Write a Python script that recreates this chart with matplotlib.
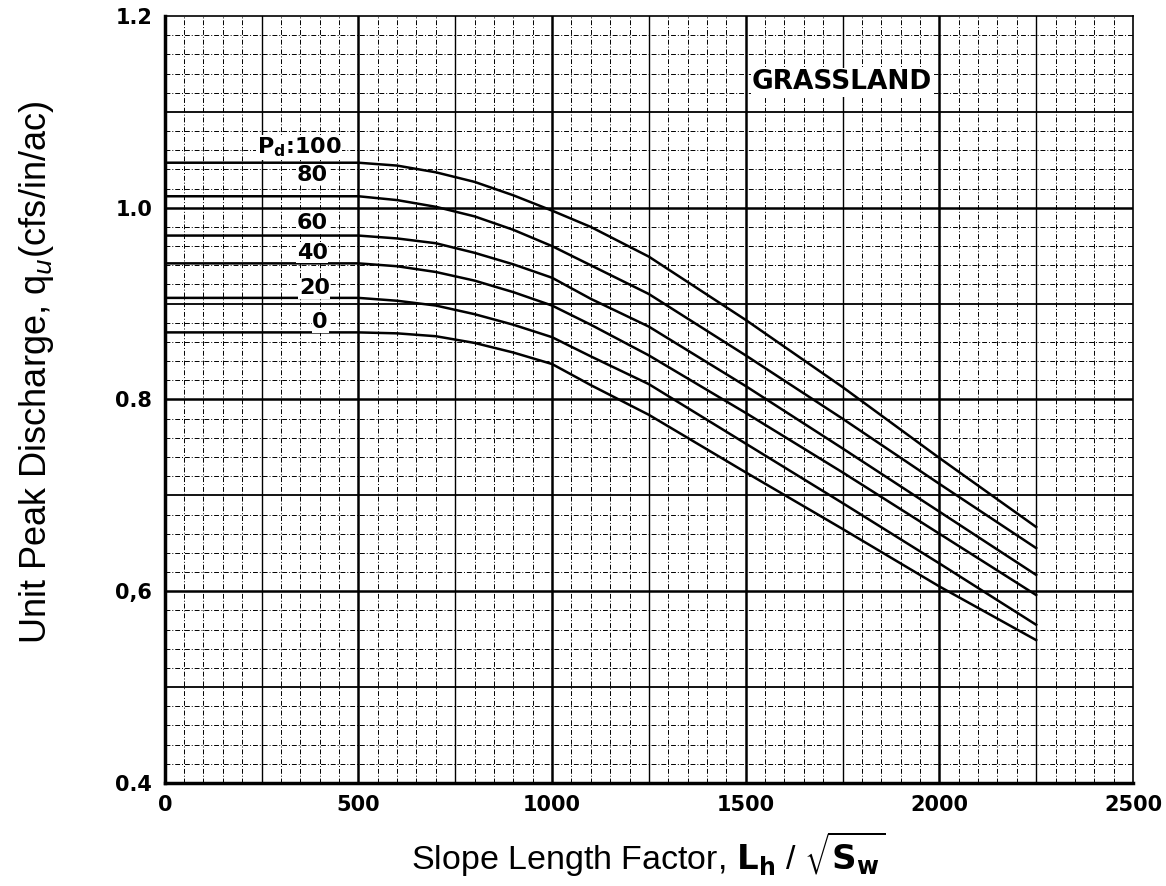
import matplotlib
matplotlib.use("Agg")
import matplotlib.pyplot as plt
import numpy as np

# Slope length factor values where the curves were read
x_pts = [0, 500, 600, 700, 800, 900, 1000, 1100, 1250, 1500, 1750, 2000, 2250]

# Unit peak discharge for each percent-pond value Pd
q_100 = [1.047, 1.047, 1.044, 1.037, 1.027, 1.013, 0.997, 0.980, 0.949, 0.883, 0.813, 0.739, 0.667]
q_80 = [1.012, 1.012, 1.008, 1.001, 0.991, 0.977, 0.960, 0.940, 0.910, 0.846, 0.780, 0.712, 0.645]
q_60 = [0.971, 0.971, 0.968, 0.963, 0.953, 0.941, 0.927, 0.905, 0.876, 0.814, 0.749, 0.683, 0.617]
q_40 = [0.942, 0.942, 0.939, 0.933, 0.924, 0.912, 0.898, 0.878, 0.846, 0.786, 0.724, 0.660, 0.596]
q_20 = [0.906, 0.906, 0.903, 0.898, 0.889, 0.878, 0.865, 0.845, 0.816, 0.754, 0.692, 0.629, 0.565]
q_0 = [0.870, 0.870, 0.869, 0.866, 0.859, 0.849, 0.837, 0.815, 0.784, 0.724, 0.665, 0.605, 0.549]

curves = [q_100, q_80, q_60, q_40, q_20, q_0]
curve_labels = [r"$\mathbf{P_d}$:100", "80", "60", "40", "20", "0"]
label_pos = [(347, 1.063), (381, 1.0345), (381, 0.984), (381, 0.953), (386, 0.916), (401, 0.881)]

x_ticks = [0, 500, 1000, 1500, 2000, 2500]
y_ticks = [0.4, 0.6, 0.8, 1.0, 1.2]
y_tick_labels = ["0.4", "0,6", "0.8", "1.0", "1.2"]

fig = plt.figure(figsize=(11.66, 8.86), dpi=100)
ax = fig.add_axes([0.1413, 0.1163, 0.8304, 0.8656])

ax.set_xlim(0, 2500)
ax.set_ylim(0.4, 1.2)

# graph-paper grid: dashed minor, solid every 250 / 0.1, heavy every 500 / 0.2
minor_ls = (0, (5, 2, 1, 2))
for xv in np.arange(50, 2500, 50):
    if xv % 250 == 0:
        lw = 1.8 if xv % 500 == 0 else 1.0
        ax.axvline(xv, color="black", lw=lw, zorder=1)
    else:
        ax.axvline(xv, color="black", lw=0.7, ls=minor_ls, zorder=1)
for i in range(1, 40):
    yv = 0.4 + i * 0.02
    if i % 5 == 0:
        lw = 1.8 if i % 10 == 0 else 1.3
        ax.axhline(yv, color="black", lw=lw, zorder=1)
    else:
        ax.axhline(yv, color="black", lw=0.7, ls=minor_ls, zorder=1)

for q in curves:
    ax.plot(x_pts, q, color="black", lw=1.8, zorder=3)

for text, (lx, ly) in zip(curve_labels, label_pos):
    ax.text(lx, ly, text, fontsize=16, fontweight="bold", ha="center", va="center",
            family="DejaVu Sans", zorder=4,
            bbox=dict(facecolor="white", edgecolor="none", pad=0.5))

ax.text(1749, 1.131, "GRASSLAND", fontsize=19, fontweight="bold", ha="center", va="center",
        family="DejaVu Sans", zorder=4,
        bbox=dict(facecolor="white", edgecolor="none", pad=1))

ax.set_xticks(x_ticks)
ax.set_yticks(y_ticks)
ax.set_yticklabels(y_tick_labels)
ax.tick_params(length=0, pad=9, labelsize=15)
for lab in ax.get_xticklabels() + ax.get_yticklabels():
    lab.set_fontweight("bold")

for side in ["left", "bottom"]:
    ax.spines[side].set_linewidth(2.5)
for side in ["top", "right"]:
    ax.spines[side].set_linewidth(1.2)

ax.set_xlabel(r"Slope Length Factor, $\mathbf{L_h}$ / $\sqrt{\mathbf{S_w}}$",
              fontsize=24.5, family="Liberation Sans", labelpad=10)
ax.set_ylabel(r"Unit Peak Discharge, q$_u$(cfs/in/ac)",
              fontsize=26, family="Liberation Sans")
ax.yaxis.set_label_coords(-0.112, 0.536)

fig.savefig("out.png", dpi=100)
